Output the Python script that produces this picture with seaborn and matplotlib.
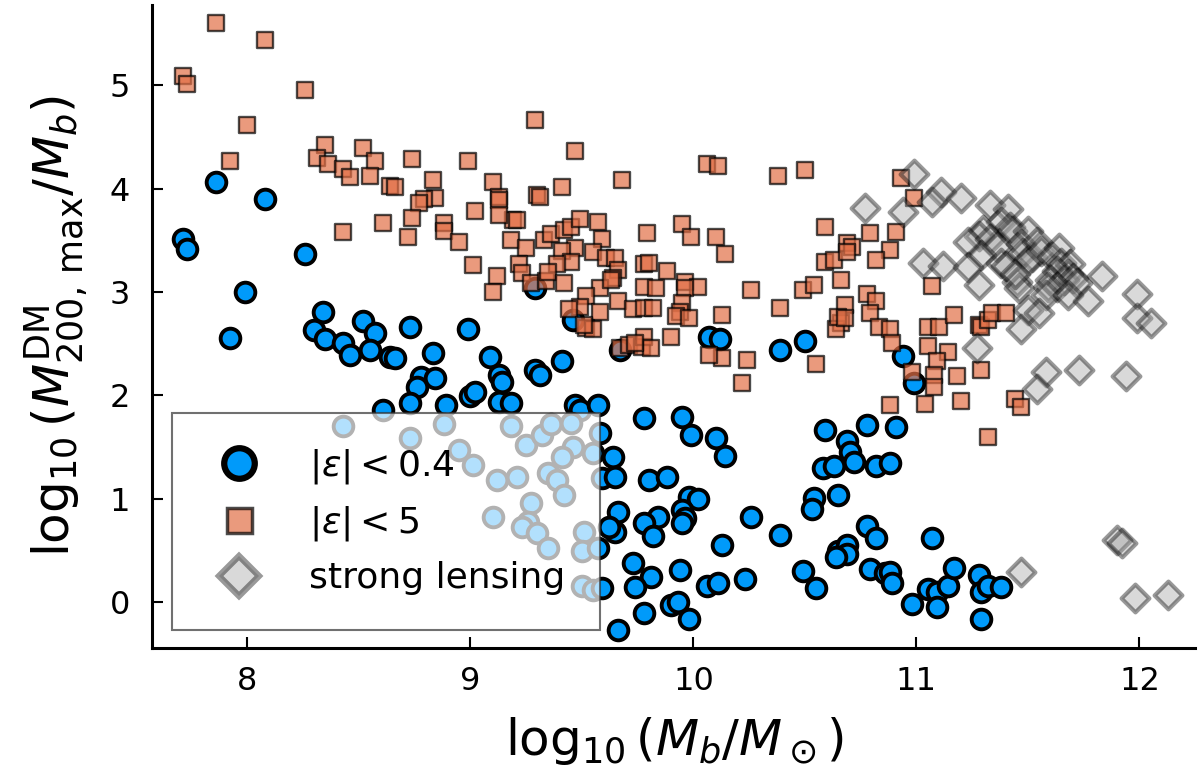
import numpy as np
import matplotlib
matplotlib.use("Agg")
import matplotlib.pyplot as plt
import seaborn as sns
from matplotlib.lines import Line2D

# |eps| < 0.4 sample (blue circles)
x_eps04 = [7.71, 7.73, 7.86, 8.08, 7.99, 7.92, 8.26, 8.34, 8.30, 8.35, 8.43, 8.46, 8.52, 8.57, 8.55,
           8.64, 8.66, 8.73, 8.83, 8.99, 8.78, 8.76, 8.84, 8.73, 8.61, 8.89, 9.00, 9.02, 9.09, 9.13,
           9.14, 9.13, 9.18, 9.29, 9.31, 9.41, 9.46, 9.47, 9.49, 9.57, 9.67, 9.78, 9.29,
           8.43, 8.88, 8.73, 8.95, 9.01, 9.12, 9.21, 9.18, 9.25, 9.32, 9.36, 9.45, 9.46, 9.41, 9.35,
           9.39, 9.42, 9.55, 9.58, 9.59, 9.27, 9.10, 9.26, 9.23, 9.30, 9.35, 9.51, 9.50, 9.57, 9.50,
           9.55, 9.64, 9.65, 9.66, 9.65, 9.62, 9.59, 9.66, 9.95, 9.99, 10.10, 10.14, 9.80, 9.88, 9.98,
           10.02, 9.95, 9.96, 9.95, 9.84, 9.78, 9.82, 10.26, 10.39, 10.13, 9.73, 9.81, 9.74, 9.94,
           10.06, 10.11, 10.23, 9.78, 9.90, 9.93, 9.98, 10.49, 10.55, 10.59, 10.69, 10.70, 10.72,
           10.58, 10.63, 10.78, 10.91, 10.82, 10.88, 10.54, 10.53, 10.65, 10.78, 10.82, 10.65, 10.69,
           10.69, 10.64, 10.79, 10.86, 10.88, 10.89, 11.07, 10.98, 11.05, 11.09, 11.09, 11.14, 11.17,
           11.28, 11.29, 11.32, 11.38, 11.29, 10.99, 10.07, 10.12, 10.39, 10.50, 10.94]
y_eps04 = [3.51, 3.42, 4.06, 3.90, 3.00, 2.56, 3.37, 2.81, 2.63, 2.55, 2.51, 2.39, 2.72, 2.60, 2.44,
           2.37, 2.36, 2.66, 2.41, 2.64, 2.18, 2.08, 2.17, 1.93, 1.86, 1.91, 1.99, 2.03, 2.37, 2.20,
           2.13, 1.94, 1.93, 2.25, 2.20, 2.33, 2.73, 1.91, 1.86, 1.91, 2.44, 1.78, 3.04,
           1.70, 1.72, 1.59, 1.47, 1.33, 1.18, 1.21, 1.70, 1.52, 1.62, 1.72, 1.73, 1.50, 1.40, 1.25,
           1.18, 1.04, 1.44, 1.64, 1.20, 0.96, 0.82, 0.78, 0.73, 0.67, 0.52, 0.68, 0.50, 0.52, 0.16,
           0.12, 1.40, 1.21, 0.87, 0.68, 0.73, 0.14, -0.27, 1.79, 1.62, 1.59, 1.41, 1.18, 1.21, 1.02,
           1.00, 0.89, 0.81, 0.77, 0.82, 0.77, 0.64, 0.82, 0.65, 0.55, 0.38, 0.24, 0.15, 0.31,
           0.16, 0.19, 0.22, -0.10, -0.03, 0.00, -0.16, 0.30, 0.14, 1.67, 1.56, 1.45, 1.36,
           1.30, 1.32, 1.71, 1.69, 1.32, 1.35, 1.01, 0.90, 1.04, 0.74, 0.62, 0.50, 0.55,
           0.47, 0.44, 0.32, 0.28, 0.29, 0.19, 0.62, -0.02, 0.13, 0.10, -0.05, 0.16, 0.33,
           0.26, 0.10, 0.16, 0.15, -0.16, 2.12, 2.57, 2.55, 2.44, 2.53, 2.38]

# |eps| < 5 sample (orange squares)
x_eps5 = [7.86, 8.08, 7.71, 7.73, 8.26, 8.00, 7.92, 8.35, 8.31, 8.36, 8.43, 8.46, 8.52, 8.57, 8.55,
          8.64, 8.66, 8.74, 8.83, 8.84, 8.79, 8.77, 8.99, 9.10, 9.13, 9.13, 9.02, 8.61, 8.74, 8.43,
          8.88, 9.29, 9.47, 9.68, 9.41, 9.30, 9.31, 9.19, 9.21, 9.13, 8.72, 8.88, 8.95, 9.01, 9.12,
          9.10, 9.18, 9.25, 9.22, 9.23, 9.27, 9.34, 9.33, 9.36, 9.42, 9.45, 9.49, 9.57, 9.59, 9.47,
          9.41, 9.55, 9.61, 9.65, 9.45, 9.39, 9.35, 9.66, 9.64, 9.42, 9.58, 9.52, 9.66, 9.73, 9.49,
          9.44, 9.58, 9.52, 9.55, 9.67, 9.71, 9.77, 9.78, 9.78, 9.78, 9.78, 9.79, 10.06, 10.11, 10.38,
          10.50, 10.59, 9.95, 9.99, 10.10, 10.14, 9.80, 9.88, 9.96, 10.02, 9.96, 9.83, 9.82, 9.95,
          9.94, 9.92, 9.98, 10.13, 9.90, 9.81, 10.26, 10.39, 10.49, 10.54, 10.59, 10.63, 10.66, 10.64,
          9.63, 9.51, 10.93, 10.99, 10.79, 10.91, 10.88, 10.82, 10.69, 10.71, 10.69, 10.66, 11.07,
          10.78, 10.82, 10.68, 10.65, 10.68, 10.79, 10.83, 10.88, 10.89, 11.05, 11.10, 11.17, 11.05,
          11.14, 11.09, 11.08, 11.08, 10.98, 11.18, 11.29, 11.20, 11.04, 10.88, 11.28, 11.29, 11.32,
          11.34, 11.40, 11.44, 11.47, 11.32, 10.22, 10.55, 10.24, 10.13, 10.07, 9.74]
y_eps5 = [5.60, 5.44, 5.09, 5.01, 4.95, 4.62, 4.27, 4.42, 4.30, 4.24, 4.19, 4.11, 4.39, 4.27, 4.12,
          4.03, 4.02, 4.29, 4.08, 3.91, 3.90, 3.86, 4.27, 4.06, 3.92, 3.89, 3.78, 3.67, 3.72, 3.58,
          3.67, 4.66, 4.36, 4.08, 4.02, 3.94, 3.92, 3.70, 3.70, 3.75, 3.53, 3.59, 3.48, 3.26, 3.16,
          3.00, 3.50, 3.43, 3.27, 3.18, 3.09, 3.11, 3.50, 3.56, 3.60, 3.63, 3.71, 3.68, 3.51, 3.43,
          3.40, 3.39, 3.33, 3.33, 3.29, 3.27, 3.19, 3.21, 3.14, 3.09, 3.04, 2.96, 2.91, 2.84, 2.86,
          2.84, 2.81, 2.65, 2.64, 2.46, 2.49, 2.47, 2.57, 2.85, 3.05, 3.27, 3.57, 4.24, 4.22, 4.12,
          4.18, 3.63, 3.66, 3.53, 3.53, 3.37, 3.28, 3.20, 3.10, 3.05, 3.04, 3.04, 2.85, 2.89,
          2.81, 2.77, 2.75, 2.78, 2.57, 2.46, 3.02, 2.85, 3.02, 3.07, 3.29, 3.31, 2.70, 2.64,
          3.12, 2.68, 4.10, 3.91, 3.57, 3.58, 3.41, 3.31, 3.47, 3.44, 3.39, 3.12, 3.06,
          2.98, 2.91, 2.87, 2.76, 2.75, 2.80, 2.66, 2.64, 2.51, 2.66, 2.66, 2.78, 2.48,
          2.42, 2.33, 2.20, 2.08, 2.23, 2.19, 2.25, 1.95, 1.92, 1.91, 2.68, 2.66, 2.73,
          2.80, 2.80, 1.97, 1.89, 1.60, 2.12, 2.30, 2.34, 2.36, 2.39, 2.51]

# strong lensing sample (grey diamonds)
x_sl = [10.99, 10.77, 10.94, 11.11, 11.07, 11.20, 11.33, 11.41, 11.38, 11.42, 11.43, 11.30, 11.28,
        11.23, 11.33, 11.36, 11.29, 11.38, 11.50, 11.47, 11.48, 11.52, 11.50, 11.54, 11.56, 11.64,
        11.61, 11.65, 11.69, 11.68, 11.63, 11.60, 11.66, 11.70, 11.72, 11.63, 11.59, 11.58, 11.68,
        11.83, 11.77, 11.03, 11.12, 11.23, 11.28, 11.45, 11.46, 11.50, 11.55, 11.47, 11.27, 11.58,
        11.54, 11.73, 11.94, 11.99, 11.99, 12.05, 11.40, 11.44, 11.90, 11.92, 11.47, 11.98, 12.13]
y_sl = [4.14, 3.81, 3.77, 3.97, 3.87, 3.91, 3.84, 3.80, 3.68, 3.63, 3.59, 3.60, 3.54,
        3.48, 3.51, 3.44, 3.36, 3.28, 3.59, 3.46, 3.38, 3.34, 3.31, 3.48, 3.40, 3.43,
        3.34, 3.28, 3.27, 3.17, 3.20, 3.12, 3.12, 3.14, 3.09, 3.05, 3.05, 2.97, 2.97,
        3.16, 2.91, 3.28, 3.25, 3.24, 3.07, 3.10, 3.04, 2.83, 2.80, 2.64, 2.46, 2.23,
        2.06, 2.25, 2.19, 2.98, 2.75, 2.70, 3.25, 3.17, 0.60, 0.57, 0.29, 0.04, 0.07]

labels = [r"$|\varepsilon| < 0.4$", r"$|\varepsilon| < 5$", "strong lensing"]
blue = "#009AFA"
orange = "#E26F46"

sns.set_style("ticks")
plt.rcParams["font.family"] = ["DejaVu Sans"]
plt.rcParams["mathtext.fontset"] = "dejavusans"
for key in ["text.color", "axes.labelcolor", "xtick.color", "ytick.color", "axes.edgecolor"]:
    plt.rcParams[key] = "black"

fig = plt.figure(figsize=(12, 7.72), dpi=100)
ax = fig.add_axes([0.127, 0.161, 0.869, 0.833])

sns.scatterplot(x=x_eps04, y=y_eps04, marker="o", s=200, color=blue,
                edgecolor="black", linewidth=2.8, ax=ax, zorder=2)
sns.scatterplot(x=x_eps5, y=y_eps5, marker="s", s=135, color=orange,
                edgecolor="black", linewidth=1.7, alpha=0.7, ax=ax, zorder=3)
sns.scatterplot(x=x_sl, y=y_sl, marker="D", s=200, color="#a0a0a0",
                edgecolor="black", linewidth=3.0, alpha=0.4, ax=ax, zorder=4)

ax.set_xlim(7.574, 12.25)
ax.set_ylim(-0.44, 5.78)
ax.set_xticks([8, 9, 10, 11, 12])
ax.set_yticks([0, 1, 2, 3, 4, 5])
ax.tick_params(direction="in", length=8, width=1.5, labelsize=23)
ax.tick_params(axis="x", pad=13)
ax.tick_params(axis="y", pad=16)
sns.despine(ax=ax)
for side in ["left", "bottom"]:
    ax.spines[side].set_linewidth(2.2)

ax.set_xlabel(r"$\log_{10}(M_b/M_\odot)$", fontsize=36, labelpad=13)
ax.set_ylabel(r"$\log_{10}(M^{\rm DM}_{200,\,\rm max}/M_b)$", fontsize=36, labelpad=14)

handles = [
    Line2D([], [], linestyle="none", marker="o", markersize=22, markerfacecolor=blue,
           markeredgecolor="black", markeredgewidth=4.5),
    Line2D([], [], linestyle="none", marker="s", markersize=18, markerfacecolor=orange,
           markeredgecolor="black", markeredgewidth=2.5, alpha=0.7),
    Line2D([], [], linestyle="none", marker="D", markersize=20, markerfacecolor="#a0a0a0",
           markeredgecolor="black", markeredgewidth=4.5, alpha=0.4),
]
leg = ax.legend(handles, labels, loc="lower left", bbox_to_anchor=(0.019, 0.028),
                fontsize=26, frameon=True, fancybox=False, framealpha=0.7,
                edgecolor="#333333", borderpad=0.95, handlelength=1.8,
                handletextpad=1.05, labelspacing=0.5, borderaxespad=0)
leg.get_frame().set_linewidth(1.5)
leg.set_zorder(10)

fig.savefig("out.png", dpi=100)
